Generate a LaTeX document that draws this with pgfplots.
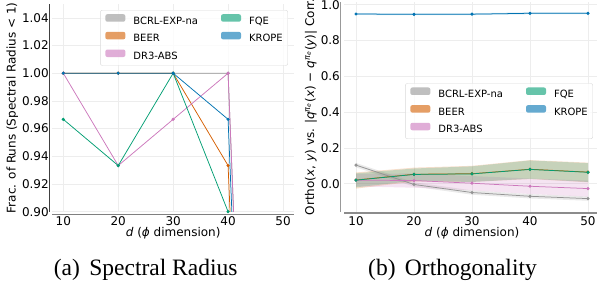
\documentclass[border=0pt]{standalone}
\usepackage{pgfplots}
\pgfplotsset{compat=1.18}
\usepackage{fontspec}
\setmainfont{DejaVu Sans}
\newfontfamily\capfont{Liberation Serif}
\definecolor{cblue}{HTML}{0173B2}
\definecolor{corange}{HTML}{D55E00}
\definecolor{cgreen}{HTML}{029E73}
\definecolor{cpink}{HTML}{CC78BC}
\definecolor{cgray}{HTML}{949494}
\newcommand{\tfont}{\fontsize{12}{14.4}\selectfont}
\begin{document}
\begin{tikzpicture}
\pgfplotsset{
  every tick label/.append style={font=\tfont},
  mystyle/.style={
    scale only axis,
    axis line style={draw=none},
    major tick length=0pt,
    tick style={draw=none},
    grid=major,
    grid style={line width=0.6pt, color=black!7},
    /pgf/number format/assume math mode=true,
    tick label style={font=\tfont},
    xtick={10,20,30,40,50},
    xticklabels={10,20,30,40,50},
    xmin=8, xmax=52,
    xticklabel style={font=\tfont, yshift=-1.5pt},
    every axis x label/.style={at={(axis description cs:0.5,0)}, anchor=base, yshift=-25.3pt, font=\tfont},
    legend columns=2,
    legend cell align=left,
    legend style={draw=black!15, rounded corners=2pt, fill=white, fill opacity=0.8, text opacity=1,
      font=\fontsize{10}{12}\selectfont, inner xsep=5pt, inner ysep=4pt,
      nodes={inner sep=0pt, text height=7.3pt, text depth=2pt},
      row sep=5.7pt,
      /tikz/every odd column/.append style={column sep=8pt},
      /tikz/every even column/.append style={column sep=23pt}},
    legend image code/.code={\fill[##1] (0pt,-0.2pt) rectangle (20pt,7.3pt);},
    every axis plot/.append style={line width=0.75pt, mark=*, mark size=1.2pt},
  }
}
% ---------------- (a) ----------------
\begin{axis}[mystyle, name=A,
  at={(52.3pt,78.3pt)}, anchor=south west,
  width=241.7pt, height=207.7pt,
  ymin=0.9, ymax=1.05,
  ytick={0.90,0.92,0.94,0.96,0.98,1.00,1.02,1.04},
  yticklabels={0.90,0.92,0.94,0.96,0.98,1.00,1.02,1.04},
  yticklabel style={font=\tfont},
  every axis y label/.style={at={(axis description cs:-0.1655,0.5)}, rotate=90, anchor=center, font=\tfont},
  ylabel={Frac. of Runs (Spectral Radius < 1)},
  xlabel={\textit{d} (\textit{ϕ} dimension)},
  legend style={at={(0.975,0.971)}, anchor=north east},
]
\addlegendimage{fill=cgray!75, draw=none}\addlegendentry{BCRL-EXP-na}
\addlegendimage{fill=cgreen!75, draw=none}\addlegendentry{FQE}
\addlegendimage{fill=corange!75, draw=none}\addlegendentry{BEER}
\addlegendimage{fill=cblue!75, draw=none}\addlegendentry{KROPE}
\addlegendimage{fill=cpink!75, draw=none}\addlegendentry{DR3-ABS}
\addplot[cgray, mark options={fill=cgray}, forget plot] coordinates {(10,1.0)(20,1.0)(30,1.0)(40,1.0)(50,0.0)};
\addplot[corange, mark options={fill=corange}, forget plot] coordinates {(10,1.0)(20,1.0)(30,1.0)(40,0.9333)(50,0.0)};
\addplot[cpink, mark options={fill=cpink}, forget plot] coordinates {(10,1.0)(20,0.9333)(30,0.9667)(40,1.0)(50,0.0)};
\addplot[cgreen, mark options={fill=cgreen}, forget plot] coordinates {(10,0.9667)(20,0.9333)(30,1.0)(40,0.9)(50,0.0)};
\addplot[cblue, mark options={fill=cblue}, forget plot] coordinates {(10,1.0)(20,1.0)(30,1.0)(40,0.9667)(50,0.0)};
\end{axis}
\draw[black!75, line width=0.8pt] ([xshift=-3pt]A.south west) -- ([xshift=-3pt]A.north west);
\draw[black!50, line width=1pt] ([yshift=-2.6pt]A.south west) -- ([yshift=-2.6pt]A.south east);
% ---------------- (b) ----------------
\begin{axis}[mystyle, name=B,
  at={(344.4pt,78.5pt)}, anchor=south west,
  width=255.2pt, height=209.5pt,
  ymin=-0.155, ymax=1.015,
  ytick={0,0.2,0.4,0.6,0.8,1.0},
  yticklabels={0.0,0.2,0.4,0.6,0.8,1.0},
  yticklabel style={font=\tfont, xshift=-1pt},
  every axis y label/.style={at={(axis description cs:-0.131,0.5)}, rotate=90, anchor=center, font=\tfont},
  ylabel={Ortho(\textit{x}, \textit{y}) vs. |\textit{q}\textsuperscript{\textit{π}\textsubscript{\textit{e}}}(\textit{x}) − \textit{q}\textsuperscript{\textit{π}\textsubscript{\textit{e}}}(\textit{y})| Corr.},
  xlabel={\textit{d} (\textit{ϕ} dimension)},
  legend style={at={(0.974,0.612)}, anchor=north east},
]
\addlegendimage{fill=cgray!75, draw=none}\addlegendentry{BCRL-EXP-na}
\addlegendimage{fill=cgreen!75, draw=none}\addlegendentry{FQE}
\addlegendimage{fill=corange!75, draw=none}\addlegendentry{BEER}
\addlegendimage{fill=cblue!75, draw=none}\addlegendentry{KROPE}
\addlegendimage{fill=cpink!75, draw=none}\addlegendentry{DR3-ABS}
% bands
\addplot[draw=none, fill=cgray, fill opacity=0.2, mark=none, forget plot] coordinates {(10,0.116)(20,0.008)(30,-0.037)(40,-0.058)(50,-0.071)(50,-0.095)(40,-0.082)(30,-0.061)(20,-0.016)(10,0.092)} -- cycle;
\addplot[draw=none, fill=corange, fill opacity=0.2, mark=none, forget plot] coordinates {(10,0.063)(20,0.090)(30,0.100)(40,0.132)(50,0.118)(50,0.008)(40,0.026)(30,0.010)(20,0.012)(10,-0.027)} -- cycle;
\addplot[draw=none, fill=cpink, fill opacity=0.2, mark=none, forget plot] coordinates {(10,0.055)(20,0.058)(30,0.043)(40,0.029)(50,0.018)(50,-0.072)(40,-0.057)(30,-0.037)(20,-0.022)(10,-0.015)} -- cycle;
\addplot[draw=none, fill=cgreen, fill opacity=0.2, mark=none, forget plot] coordinates {(10,0.058)(20,0.085)(30,0.097)(40,0.130)(50,0.115)(50,0.010)(40,0.028)(30,0.010)(20,0.016)(10,-0.020)} -- cycle;
\addplot[draw=none, fill=cblue, fill opacity=0.2, mark=none, forget plot] coordinates {(10,0.953)(20,0.951)(30,0.952)(40,0.957)(50,0.957)(50,0.947)(40,0.947)(30,0.942)(20,0.941)(10,0.943)} -- cycle;
% means
\addplot[cgray, mark options={fill=cgray}, forget plot] coordinates {(10,0.104)(20,-0.004)(30,-0.049)(40,-0.070)(50,-0.083)};
\addplot[corange, mark options={fill=corange}, forget plot] coordinates {(10,0.021)(20,0.053)(30,0.056)(40,0.081)(50,0.065)};
\addplot[cpink, mark options={fill=cpink}, forget plot] coordinates {(10,0.020)(20,0.018)(30,0.003)(40,-0.014)(50,-0.027)};
\addplot[cgreen, mark options={fill=cgreen}, forget plot] coordinates {(10,0.020)(20,0.052)(30,0.055)(40,0.080)(50,0.064)};
\addplot[cblue, mark options={fill=cblue}, forget plot] coordinates {(10,0.948)(20,0.946)(30,0.947)(40,0.952)(50,0.952)};
\end{axis}
\draw[black!40, line width=1.2pt] ([xshift=-3.7pt]B.south west) -- ([xshift=-3.7pt]B.north west);
\draw[black!45, line width=1.2pt] ([yshift=-1.5pt]B.south west) -- ([yshift=-1.5pt]B.south east);
% captions
\node[font=\capfont\fontsize{23.5}{26}\selectfont, anchor=center] at (145.7pt,20pt) {(a)\hspace{0.4em}Spectral Radius};
\node[font=\capfont\fontsize{23.5}{26}\selectfont, anchor=center] at (452.5pt,20pt) {(b)\hspace{0.4em}Orthogonality};
\pgfresetboundingbox
\useasboundingbox (0pt,0pt) rectangle (597pt,290pt);
\end{tikzpicture}
\end{document}
